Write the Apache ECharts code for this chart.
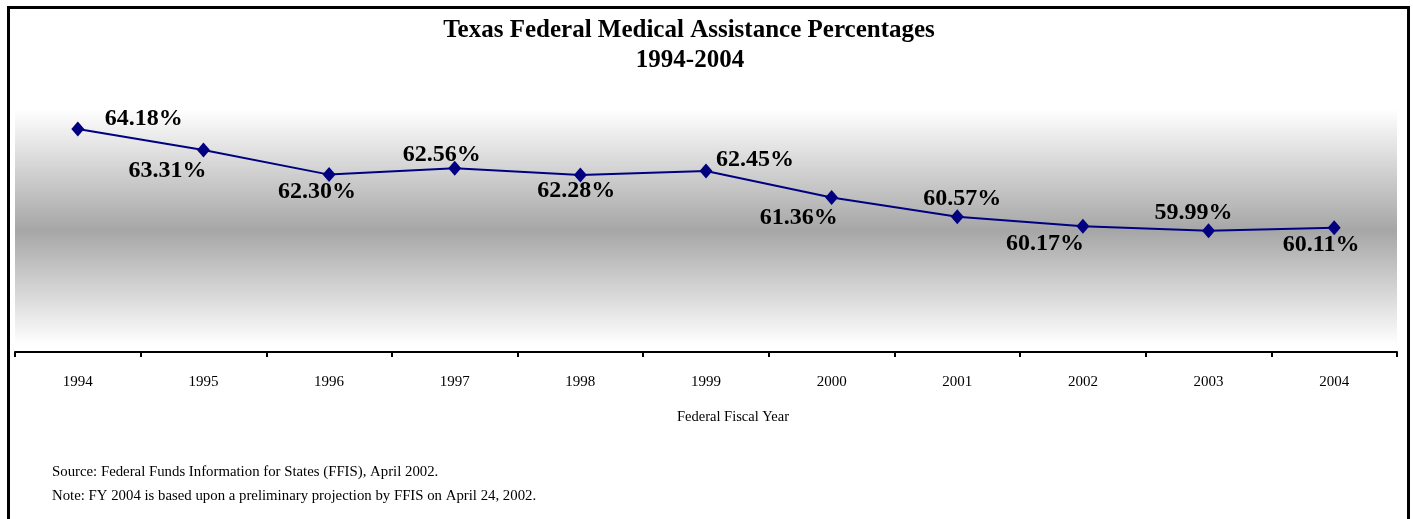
<!DOCTYPE html>
<html>
<head>
<meta charset="utf-8">
<script src="https://cdn.jsdelivr.net/npm/echarts@6/dist/echarts.min.js"></script>
<style>
html,body{margin:0;padding:0;background:#fff;}
#chart{width:1413px;height:519px;}
</style>
</head>
<body>
<div id="chart"></div>
<script>
const years = ['1994','1995','1996','1997','1998','1999','2000','2001','2002','2003','2004'];
const fmap = [64.18, 63.31, 62.30, 62.56, 62.28, 62.45, 61.36, 60.57, 60.17, 59.99, 60.11];
const titleLines = ['Texas Federal Medical Assistance Percentages', '1994-2004'];
const xAxisName = 'Federal Fiscal Year';
const notes = ['Source: Federal Funds Information for States (FFIS), April 2002.',
               'Note: FY 2004 is based upon a preliminary projection by FFIS on April 24, 2002.'];

// label placement (layout only)
const labelOffsets = [[66,-10],[-36,21],[-12,17],[-13,-13],[-4,16],[49,-11],[-33,20],[5,-18],[-38,17],[-15,-18],[-13,17]];

const serif = '"Liberation Serif","Times New Roman",serif';
const chart = echarts.init(document.getElementById('chart'));

const seriesData = fmap.map((v, i) => ({
  value: v,
  label: { offset: labelOffsets[i] }
}));

const titleStyle = { fontFamily: serif, fontSize: 25, fontWeight: 'bold', color: '#000' };

chart.setOption({
  backgroundColor: '#fff',
  animation: false,
  title: [
    { text: titleLines[0], left: 689, top: 18, textAlign: 'center', padding: 0, textStyle: titleStyle },
    { text: titleLines[1], left: 690, top: 48, textAlign: 'center', padding: 0, textStyle: titleStyle },
    { text: xAxisName, left: 733, top: 410, textAlign: 'center', padding: 0,
      textStyle: { fontFamily: serif, fontSize: 14.5, fontWeight: 'normal', color: '#000' } },
    { text: notes.join('\n'), left: 52, top: 460, padding: 0,
      textStyle: { fontFamily: serif, fontSize: 14.8, fontWeight: 'normal', color: '#000', lineHeight: 24 } }
  ],
  graphic: [
    { type: 'rect', shape: { x: 8.5, y: 7.5, width: 1400, height: 530 },
      style: { fill: 'none', stroke: '#000', lineWidth: 3 }, z: 100 }
  ],
  grid: {
    left: 15, right: 16, top: 109, bottom: 167, show: true, borderWidth: 0,
    backgroundColor: new echarts.graphic.LinearGradient(0, 0, 0, 1, [
      { offset: 0, color: '#ffffff' },
      { offset: 0.5, color: '#a6a6a6' },
      { offset: 0.97, color: '#ffffff' },
      { offset: 1, color: '#ffffff' }
    ])
  },
  xAxis: {
    type: 'category', data: years, boundaryGap: true,
    axisLine: { lineStyle: { color: '#000', width: 2 } },
    axisTick: { show: true, length: 5, lineStyle: { color: '#000', width: 2 }, alignWithLabel: false },
    axisLabel: { fontFamily: serif, fontSize: 15, color: '#000', margin: 23 },
    splitLine: { show: false }
  },
  yAxis: {
    type: 'value', min: 55, max: 65, show: false, splitLine: { show: false }
  },
  series: [{
    type: 'line', data: seriesData,
    symbol: 'diamond', symbolSize: [13, 15],
    lineStyle: { color: '#000080', width: 2 },
    itemStyle: { color: '#000080' },
    label: {
      show: true, position: 'inside',
      formatter: p => p.value.toFixed(2) + '%',
      fontFamily: serif, fontSize: 24, fontWeight: 'bold', color: '#000'
    }
  }]
});
</script>
</body>
</html>
